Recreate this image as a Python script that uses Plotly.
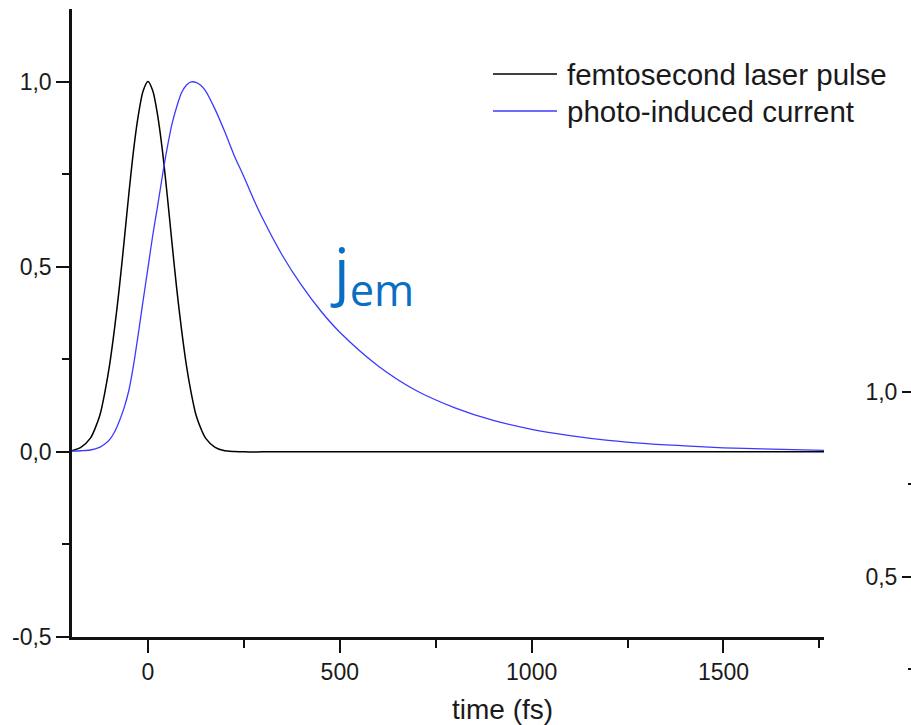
import plotly.graph_objects as go

# Femtosecond laser pulse (normalised intensity) vs time in fs
pulse_t = [-198, -175, -150, -137.5, -125, -112.5, -100, -87.5, -75, -62.5, -50, -37.5,
           -25, -12.5, 0, 12.5, 25, 37.5, 50, 62.5, 75, 87.5, 100, 112.5, 125, 137.5,
           150, 175, 200, 225, 250, 300, 400, 500, 750, 1000, 1250, 1500, 1762]
pulse_v = [0.003, 0.012, 0.037, 0.064, 0.10, 0.16, 0.235, 0.33, 0.44, 0.565, 0.695, 0.815,
           0.91, 0.975, 1.0, 0.975, 0.91, 0.815, 0.695, 0.565, 0.44, 0.33, 0.235, 0.16,
           0.10, 0.064, 0.037, 0.012, 0.003, 0.001, 0.0, 0.0, 0.0, 0.0, 0.0, 0.0, 0.0,
           0.0, 0.0]

# Photo-induced emission current (normalised)
current_t = [-198, -175, -150, -125, -112.5, -100, -87.5, -75, -62.5, -50, -37.5, -25,
             -12.5, 0, 12.5, 25, 37.5, 50, 62.5, 75, 87.5, 100, 112.5, 125, 137.5, 150,
             175, 200, 225, 250, 275, 300, 350, 400, 450, 500, 600, 700, 800, 900, 1000,
             1100, 1200, 1300, 1400, 1500, 1600, 1762]
current_v = [0.002, 0.003, 0.005, 0.013, 0.021, 0.033, 0.053, 0.082, 0.118, 0.165, 0.235,
             0.32, 0.41, 0.497, 0.585, 0.663, 0.745, 0.82, 0.885, 0.932, 0.97, 0.99,
             0.999, 0.998, 0.99, 0.975, 0.925, 0.865, 0.80, 0.743, 0.683, 0.628, 0.531,
             0.450, 0.381, 0.323, 0.232, 0.165, 0.119, 0.085, 0.061, 0.044, 0.031, 0.022,
             0.016, 0.011, 0.008, 0.004]

series_names = ["femtosecond laser pulse", "photo-induced current"]
series_colors = ["#000000", "#3a3aff"]
series_widths = [1.5, 1.3]

x_ticks = [0, 500, 1000, 1500]
x_minor = [-250, 250, 750, 1250, 1750]
y_ticks = [-0.5, 0.0, 0.5, 1.0]
y_labels = ["-0,5", "0,0", "0,5", "1,0"]
side_ticks = [0.5, 1.0]
side_labels = ["0,5", "1,0"]
side_minor = [0.25, 0.75]

FONT = "Liberation Sans, Arial, sans-serif"
TICK_FONT = dict(family=FONT, size=23, color="#1a1a1a")
AXIS_COLOR = "#111111"

fig = go.Figure()
for t, v, name, color, w in zip([pulse_t, current_t], [pulse_v, current_v],
                                series_names, series_colors, series_widths):
    fig.add_trace(go.Scatter(
        x=t, y=v, mode="lines", name=name, showlegend=False,
        line=dict(color=color, width=w, shape="spline", smoothing=0.8),
    ))

# empty trace that gives the neighbouring panel's axis a subplot to live on
fig.add_trace(go.Scatter(x=[], y=[], xaxis="x3", yaxis="y2", showlegend=False,
                         hoverinfo="skip"))

x_dom_end = 752 / 839
y_dom_start = 88 / 716

common_x = dict(range=[-198, 1762], domain=[0, x_dom_end], showgrid=False,
                zeroline=False, showline=True, linecolor=AXIS_COLOR, linewidth=2.5,
                tickwidth=2, tickcolor=AXIS_COLOR, tickvals=x_ticks, automargin=False)

fig.update_layout(
    width=911, height=725,
    margin=dict(l=72, r=0, t=9, b=0, autoexpand=False),
    # transparent plot areas so the side panel's area does not hide the main one
    paper_bgcolor="white", plot_bgcolor="rgba(0,0,0,0)",
    xaxis=dict(**common_x, anchor="y", side="bottom", ticks="outside", ticklen=13,
               tickfont=TICK_FONT, ticktext=[str(v) for v in x_ticks],
               minor=dict(tickvals=x_minor, ticks="outside", ticklen=8,
                          tickwidth=2, tickcolor=AXIS_COLOR)),
    xaxis2=dict(**common_x, overlaying="x", anchor="y", side="top", ticks="inside",
                ticklen=12, showticklabels=False,
                minor=dict(tickvals=x_minor, ticks="inside", ticklen=7,
                           tickwidth=2, tickcolor=AXIS_COLOR)),
    xaxis3=dict(domain=[0, x_dom_end], anchor="y2", visible=False, range=[0, 1],
                automargin=False),
    yaxis=dict(range=[-0.5, 1.196], domain=[y_dom_start, 1], anchor="x",
               showgrid=False, zeroline=False, showline=True, linecolor=AXIS_COLOR,
               linewidth=2.5, ticks="outside", ticklen=13, tickwidth=2,
               tickcolor=AXIS_COLOR, tickvals=y_ticks, ticktext=y_labels,
               tickfont=TICK_FONT, automargin=False,
               minor=dict(tickvals=[-0.25, 0.25, 0.75], ticks="outside", ticklen=7,
                          tickwidth=2, tickcolor=AXIS_COLOR)),
    yaxis2=dict(range=[0.099, 2.034], domain=[0, 1], anchor="free", position=1.0,
                side="left", showgrid=False, zeroline=False, showline=False,
                ticks="outside", ticklen=9, tickwidth=2, tickcolor=AXIS_COLOR,
                tickvals=side_ticks, ticktext=side_labels, tickfont=TICK_FONT,
                automargin=False,
                minor=dict(tickvals=side_minor, ticks="outside", ticklen=3,
                           tickwidth=2, tickcolor=AXIS_COLOR)),
)

# hand-placed legend: long line samples followed by the series names
legend_rows = [0.9092, 0.8575]
for name, color, ypos in zip(series_names, series_colors, legend_rows):
    fig.add_shape(type="line", xref="paper", yref="paper",
                  x0=421 / 839, x1=485 / 839, y0=ypos, y1=ypos,
                  line=dict(color=color, width=1.5))
    fig.add_annotation(xref="paper", yref="paper", x=493 / 839, y=ypos,
                       xanchor="left", yanchor="middle", text=name, showarrow=False,
                       font=dict(family=FONT, size=29.5, color="#1a1a1a"))

# x-axis title
fig.add_annotation(xref="paper", yref="paper", x=430 / 839, y=16 / 716,
                   xanchor="center", yanchor="middle", text="time (fs)", showarrow=False,
                   font=dict(family=FONT, size=28, color="#1a1a1a"))

# label for the emission current
fig.add_annotation(xref="x", yref="y", x=583, y=0.483, xanchor="center",
                   yanchor="middle", text="j<sub>em</sub>", showarrow=False,
                   font=dict(family="Open Sans, sans-serif", size=62, color="#0a6fc2"))

fig.write_html("out.html")
